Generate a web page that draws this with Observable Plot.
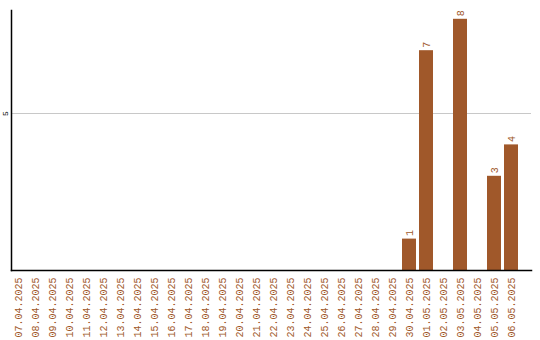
<!DOCTYPE html>
<html>
<head>
<meta charset="utf-8">
<script src="https://cdn.jsdelivr.net/npm/d3@7"></script>
<script src="https://cdn.jsdelivr.net/npm/@observablehq/plot@0.6"></script>
<style>
  html, body { margin: 0; padding: 0; background: #fff; }
</style>
</head>
<body>
<div id="chart"></div>
<script>
// Daily counts, 07.04.2025 – 06.05.2025
const days = [
  "07.04.2025", "08.04.2025", "09.04.2025", "10.04.2025", "11.04.2025",
  "12.04.2025", "13.04.2025", "14.04.2025", "15.04.2025", "16.04.2025",
  "17.04.2025", "18.04.2025", "19.04.2025", "20.04.2025", "21.04.2025",
  "22.04.2025", "23.04.2025", "24.04.2025", "25.04.2025", "26.04.2025",
  "27.04.2025", "28.04.2025", "29.04.2025", "30.04.2025", "01.05.2025",
  "02.05.2025", "03.05.2025", "04.05.2025", "05.05.2025", "06.05.2025"
];
const counts = [
  0, 0, 0, 0, 0,
  0, 0, 0, 0, 0,
  0, 0, 0, 0, 0,
  0, 0, 0, 0, 0,
  0, 0, 0, 1, 7,
  0, 8, 0, 3, 4
];
const yTicks = [5];

const rows = days.map((day, i) => ({day, count: counts[i]}));
const nonZero = rows.filter(d => d.count > 0);
const barColor = "#a0582a";

const chart = Plot.plot({
  width: 540,
  height: 340,
  marginTop: 10,
  marginBottom: 70,
  marginLeft: 11,
  marginRight: 9,
  style: {fontFamily: "'Liberation Mono', 'DejaVu Sans Mono', monospace", background: "#fff"},
  x: {
    type: "band",
    domain: days,
    paddingInner: 0.18,
    paddingOuter: 0.38,
    align: 0,
    label: null
  },
  y: {domain: [0, 8.28], label: null},
  marks: [
    Plot.gridY(yTicks, {stroke: "#c8c8c8", strokeOpacity: 1, strokeWidth: 1}),
    Plot.barY(rows, {x: "day", y: "count", fill: barColor}),
    Plot.text(nonZero, {
      x: "day", y: "count", text: d => String(d.count),
      rotate: -90, textAnchor: "start", dy: -3,
      fill: barColor, fontSize: 10
    }),
    Plot.axisX({
      tickSize: 0, tickRotate: -90, tickPadding: 7,
      fontSize: 10, fill: barColor, label: null
    }),
    Plot.axisY(yTicks, {
      tickSize: 0, tickRotate: -90, tickPadding: 4,
      fontSize: 8, fill: "#000", label: null, anchor: "left"
    }),
    // left and bottom axis lines
    Plot.frame({anchor: "left", stroke: "#000", strokeWidth: 1.5}),
    Plot.frame({anchor: "bottom", stroke: "#000", strokeWidth: 1.5})
  ]
});

document.getElementById("chart").appendChild(chart);
</script>
</body>
</html>
